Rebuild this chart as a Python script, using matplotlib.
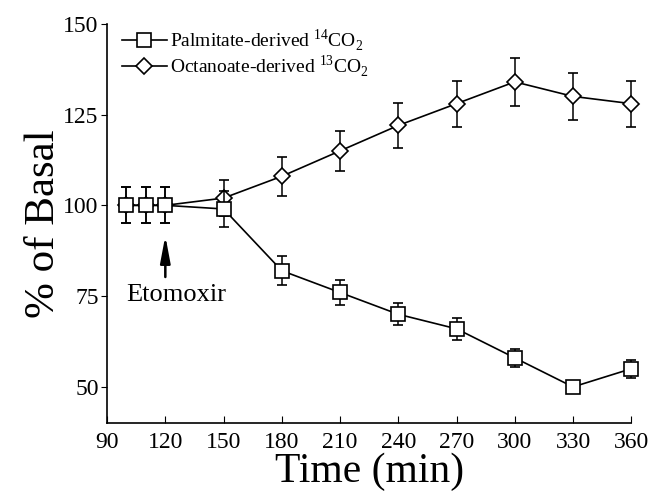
import matplotlib
matplotlib.use("Agg")
import matplotlib.pyplot as plt

plt.rcParams["font.family"] = "Liberation Serif"
plt.rcParams["mathtext.fontset"] = "custom"
plt.rcParams["mathtext.rm"] = "Liberation Serif"

# Dades llegides del gràfic
time_palm = [100, 110, 120, 150, 180, 210, 240, 270, 300, 330, 360]
palm = [100, 100, 100, 99, 82, 76, 70, 66, 58, 50, 55]
palm_err = [5, 5, 5, 5, 4, 3.5, 3, 3, 2.5, 1, 2.5]

time_oct = [100, 110, 120, 150, 180, 210, 240, 270, 300, 330, 360]
octa = [100, 100, 100, 102, 108, 115, 122, 128, 134, 130, 128]
octa_err = [5, 5, 5, 5, 5.4, 5.6, 6.2, 6.3, 6.6, 6.5, 6.3]

x_ticks = [90, 120, 150, 180, 210, 240, 270, 300, 330, 360]
y_ticks = [50, 75, 100, 125, 150]

fig = plt.figure(figsize=(6.61, 4.95), dpi=100)
ax = fig.add_axes([0.162, 0.145, 0.793, 0.807])

eb_oct = ax.errorbar(time_oct, octa, yerr=octa_err, color="black", lw=1.2,
                     marker="D", ms=8, mfc="white", mec="black", mew=1.2,
                     capsize=3.5, elinewidth=1.1, capthick=1.1, zorder=2)
eb_palm = ax.errorbar(time_palm, palm, yerr=palm_err, color="black", lw=1.2,
                      marker="s", ms=10, mfc="white", mec="black", mew=1.2,
                      capsize=3.5, elinewidth=1.1, capthick=1.1, zorder=3)

# Que no es tallin els punts de la vora
for eb in (eb_oct, eb_palm):
    for art in eb.get_children():
        art.set_clip_on(False)

# Fletxa d'etomoxir
ax.annotate("", xy=(120, 92.4), xytext=(120, 79.5),
            arrowprops=dict(arrowstyle="-|>,head_length=1.6,head_width=0.3",
                            color="black", lw=1.8))
ax.text(125.5, 75.3, "Etomoxir", fontsize=19, ha="center", va="center")

ax.set_xlim(90, 360)
ax.set_ylim(40, 150)
ax.set_xticks(x_ticks)
ax.set_yticks(y_ticks)
ax.tick_params(axis="x", direction="in", length=5, labelsize=17, pad=6)
ax.tick_params(axis="y", direction="out", length=4, labelsize=17, pad=2)
ax.spines["top"].set_visible(False)
ax.spines["right"].set_visible(False)
ax.spines["left"].set_linewidth(1.2)
ax.spines["bottom"].set_linewidth(1.2)

ax.set_xlabel("Time (min)", fontsize=30, labelpad=0)
ax.set_ylabel("% of Basal", fontsize=31, labelpad=0)

ax.legend([eb_palm[0], eb_oct[0]],
          [r"Palmitate-derived $^{14}$CO$_2$", r"Octanoate-derived $^{13}$CO$_2$"],
          loc="upper left", frameon=False, fontsize=14,
          bbox_to_anchor=(-0.005, 1.035), handlelength=2.3,
          handletextpad=0.15, labelspacing=0.0)

fig.savefig("out.png", dpi=100)
